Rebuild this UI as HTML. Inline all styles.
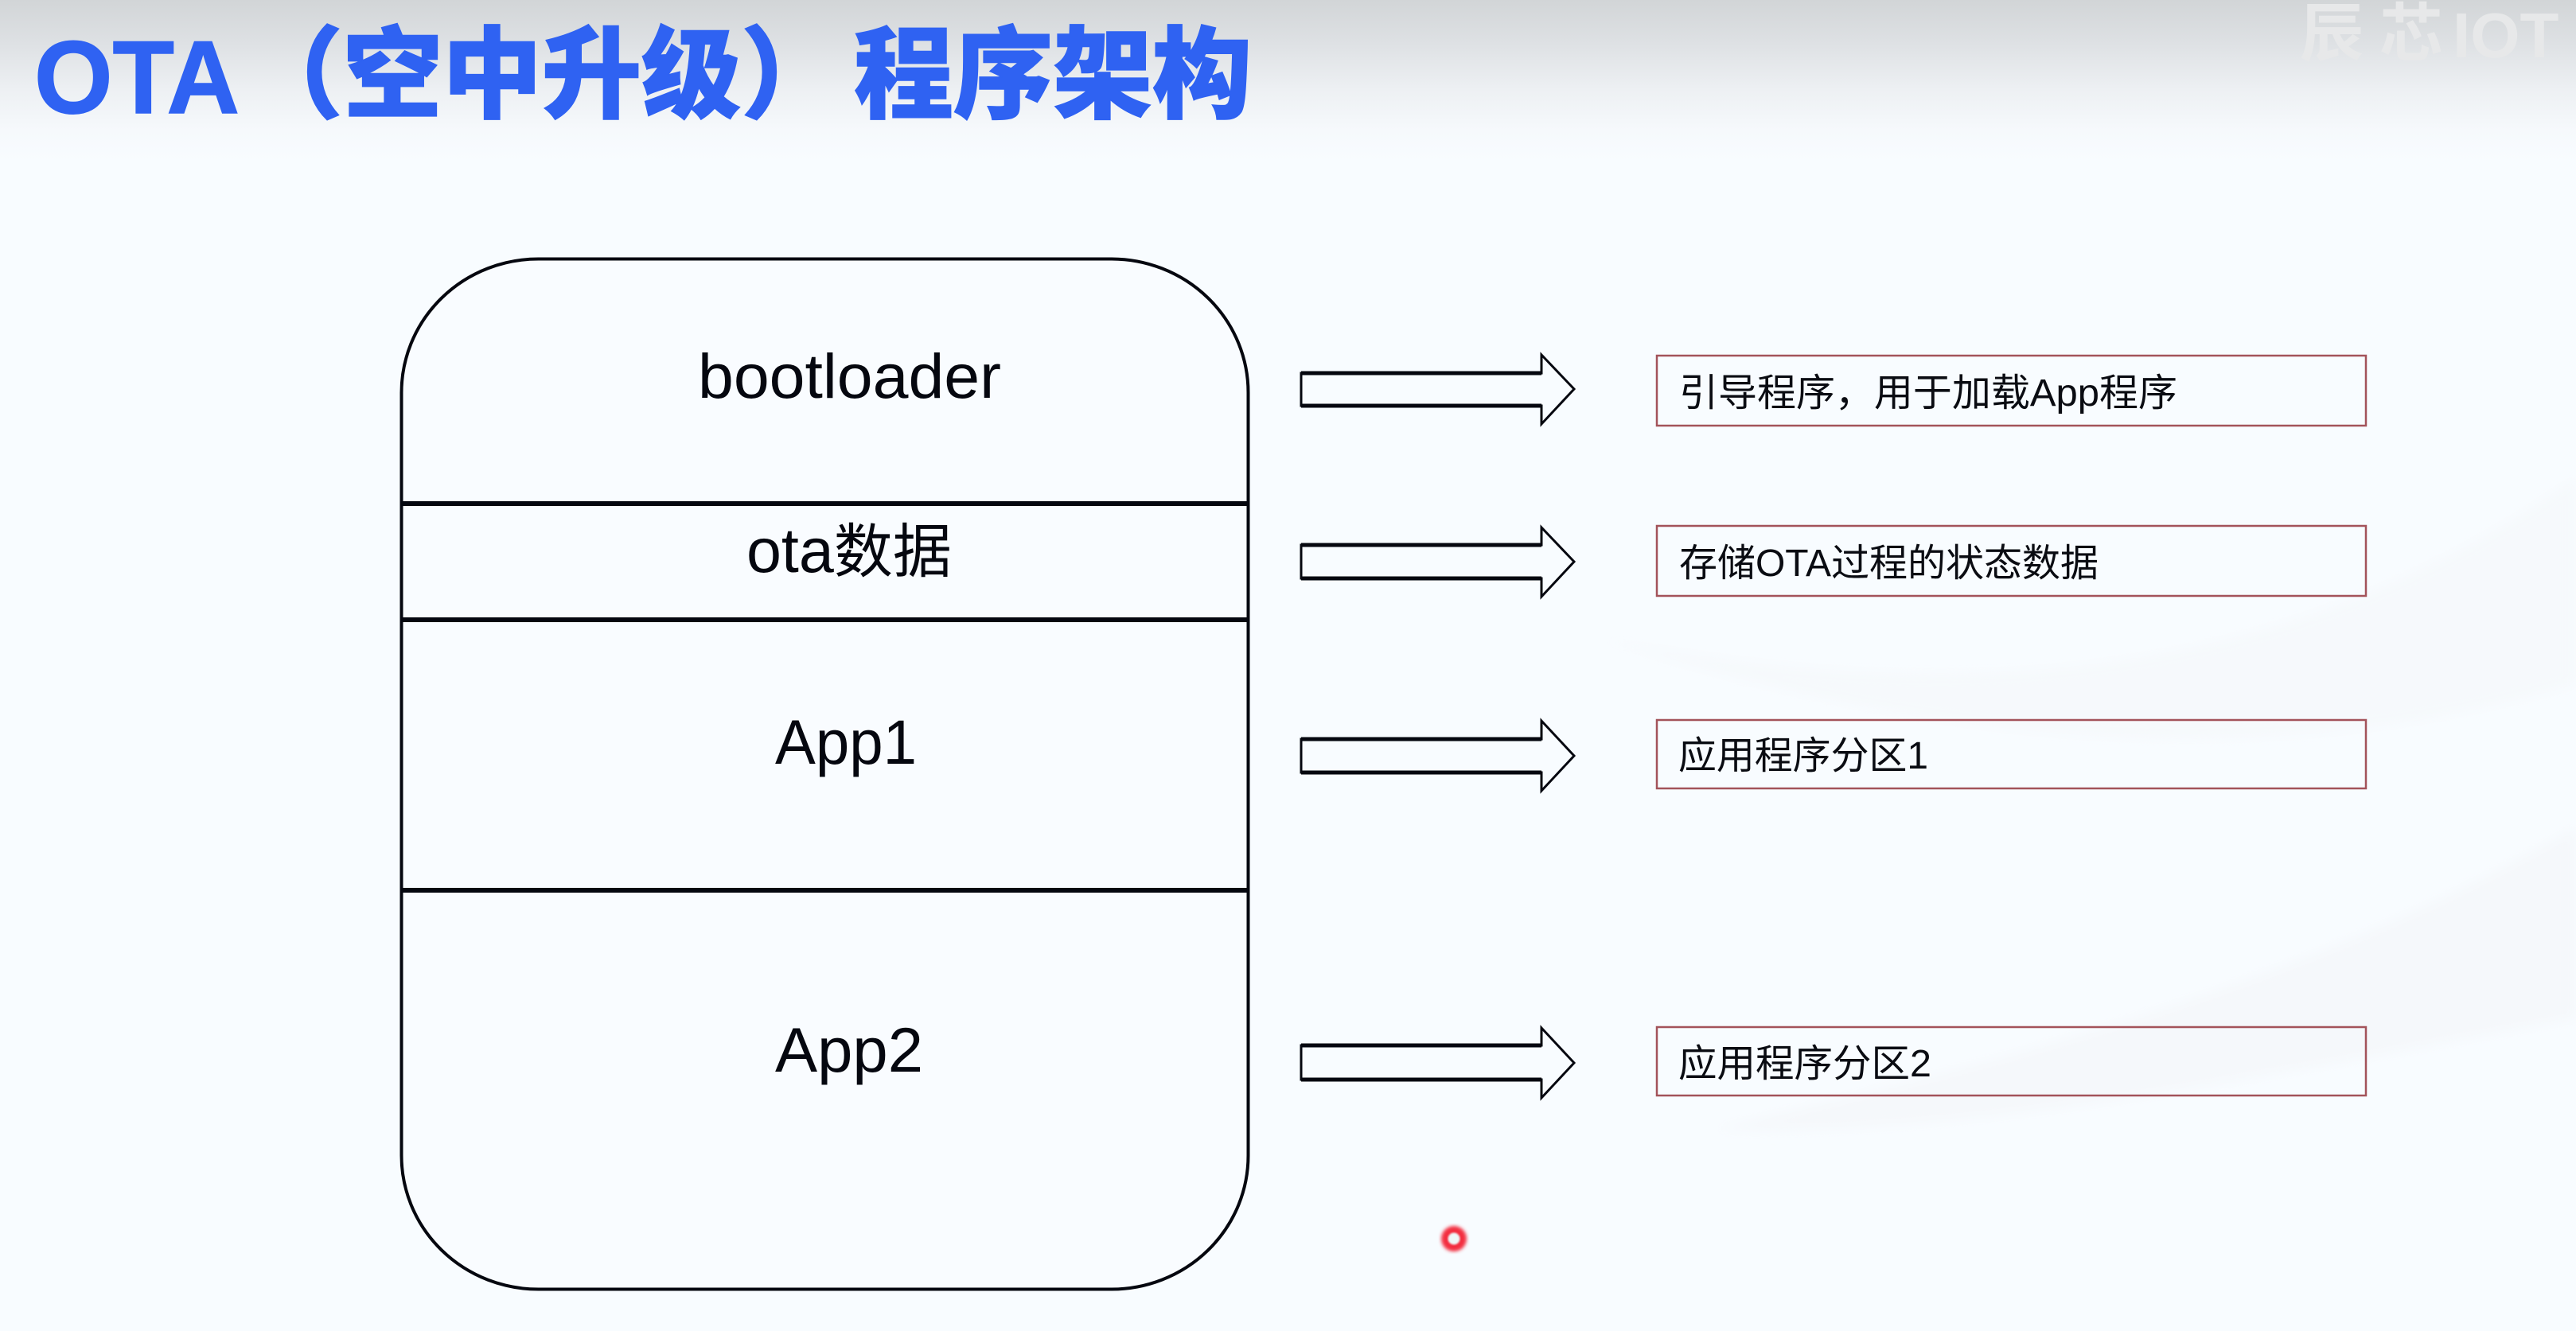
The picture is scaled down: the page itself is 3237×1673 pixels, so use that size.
<!DOCTYPE html>
<html lang="zh"><head><meta charset="utf-8"><title>OTA</title>
<style>html,body{margin:0;padding:0;background:#f8fcff}svg{display:block}</style></head>
<body>
<svg xmlns="http://www.w3.org/2000/svg" width="3237" height="1673" viewBox="0 0 3237 1673">
<defs>
<linearGradient id="top" x1="0" y1="0" x2="0" y2="1">
<stop offset="0" stop-color="#d2d5d7"/><stop offset=".25" stop-color="#dde0e3"/><stop offset=".55" stop-color="#edf0f3"/><stop offset=".8" stop-color="#f6f9fc"/><stop offset="1" stop-color="#f8fcff"/>
</linearGradient>
<filter id="blur"><feGaussianBlur stdDeviation="2"/></filter>
<filter id="soft"><feGaussianBlur stdDeviation="1"/></filter>
<filter id="sw"><feGaussianBlur stdDeviation="8"/></filter>
</defs>
<rect width="3237" height="1673" fill="#f8fcff"/>
<rect width="3237" height="205" fill="url(#top)"/>
<path d="M2000 800 C2500 900 2900 840 3237 600 L3237 860 C2900 960 2500 960 2000 800Z" fill="#f6f9fc" filter="url(#sw)"/>
<path d="M2150 1420 C2500 1340 2900 1240 3237 1040 L3237 1280 C2900 1340 2500 1430 2150 1420Z" fill="#f5f8fb" filter="url(#sw)"/>
<g font-family="'Liberation Sans','Noto Sans CJK SC',sans-serif" fill="#e7e8e9" font-size="80" font-weight="700">
<text x="2890" y="70" letter-spacing="20" font-family="'Noto Sans CJK SC',sans-serif">辰芯</text><text x="3082" y="72">IOT</text>
</g>
<g fill="#2f62f2" stroke="#2f62f2" stroke-width="1.500" font-weight="900" font-size="125" font-family="'Noto Sans CJK SC',sans-serif">
<text x="43" y="142" font-family="'Liberation Sans',sans-serif" font-weight="700" font-size="130" textLength="258" lengthAdjust="spacingAndGlyphs">OTA</text>
<text x="306" y="138">（空中升级）</text>
<text x="1073" y="138">程序架构</text>
</g>
<rect x="504.500" y="325.500" width="1064" height="1295" rx="172" ry="168" fill="#f9fcff" stroke="#05070f" stroke-width="4"/>
<g stroke="#05070f" stroke-width="6">
<line x1="505" y1="633" x2="1568" y2="633"/>
<line x1="505" y1="779" x2="1568" y2="779"/>
<line x1="505" y1="1119" x2="1568" y2="1119"/>
</g>
<g fill="#05070f" font-size="79" font-family="'Liberation Sans','Noto Sans CJK SC',sans-serif">
<text x="877" y="500" textLength="381" lengthAdjust="spacingAndGlyphs">bootloader</text>
<text x="938" y="719">ota<tspan font-size="74" font-family="'Noto Sans CJK SC',sans-serif">数据</tspan></text>
<text x="974" y="960" textLength="178" lengthAdjust="spacingAndGlyphs">App1</text>
<text x="974" y="1347" textLength="186" lengthAdjust="spacingAndGlyphs">App2</text>
</g>
<g fill="none" stroke="#05070f" stroke-width="3" stroke-linejoin="miter">
<path d="M1635 469H1937V446L1978 489 1937 533V510H1635Z"/>
<path d="M1635 685H1937V663L1978 706 1937 750V727H1635Z"/>
<path d="M1635 929H1937V906L1978 950 1937 994V971H1635Z"/>
<path d="M1635 1314H1937V1292L1978 1336 1937 1380V1357H1635Z"/>
</g>
<g stroke="#05070f" stroke-width="5">
<path d="M1635 469H1937M1635 510H1937M1635 685H1937M1635 727H1937M1635 929H1937M1635 971H1937M1635 1314H1937M1635 1357H1937"/>
</g>
<g fill="none" stroke="#a3535a" stroke-width="2.500">
<rect x="2082" y="447" width="891" height="88"/>
<rect x="2082" y="661" width="891" height="88"/>
<rect x="2082" y="905" width="891" height="86"/>
<rect x="2082" y="1291" width="891" height="86"/>
</g>
<g fill="#0a0c12" font-size="48" font-family="'Liberation Sans','Noto Sans CJK SC',sans-serif">
<text x="2110" y="510" textLength="626" lengthAdjust="spacingAndGlyphs">引导程序，用于加载App程序</text>
<text x="2110" y="724" textLength="527" lengthAdjust="spacingAndGlyphs">存储OTA过程的状态数据</text>
<text x="2109" y="966" textLength="314" lengthAdjust="spacingAndGlyphs">应用程序分区1</text>
<text x="2109" y="1353" textLength="318" lengthAdjust="spacingAndGlyphs">应用程序分区2</text>
</g>
<circle cx="1827" cy="1557" r="16" fill="#f32f3f" filter="url(#blur)"/>
<circle cx="1827" cy="1557" r="7.500" fill="#eef8f8" filter="url(#soft)"/>
</svg>
</body></html>
